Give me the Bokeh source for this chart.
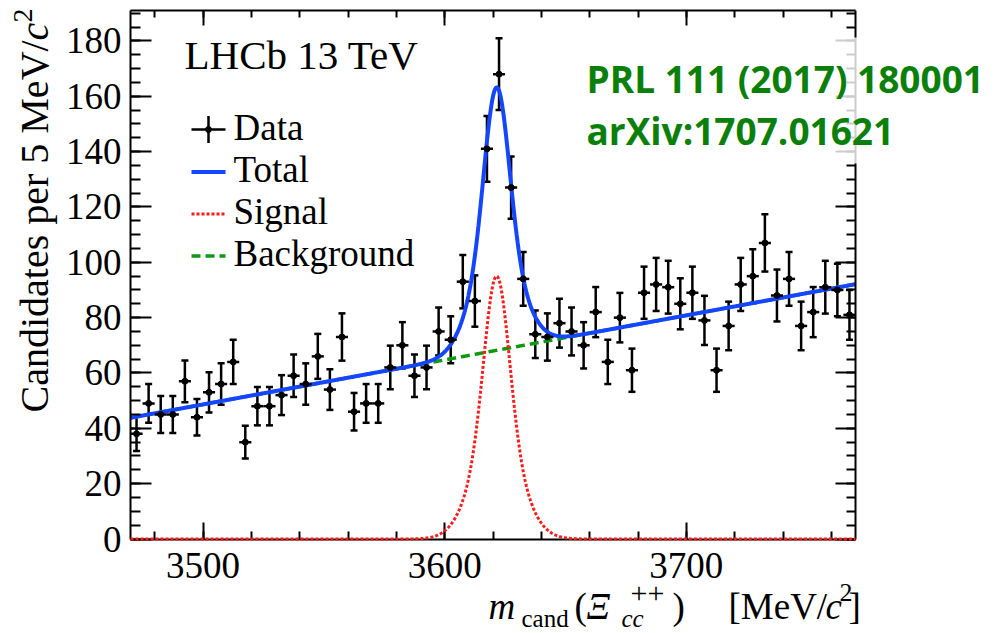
import numpy as np
from bokeh.plotting import figure
from bokeh.models import (Range1d, LinearAxis, SingleIntervalTicker, Label,
                          Whisker, ColumnDataSource, TeeHead, BoxAnnotation)
from bokeh.embed import file_html
from bokeh.resources import INLINE

# ---------------- data ----------------
bin_width = 5.0
bin_centers = np.arange(3472.5, 3770.0, bin_width)
counts = [38, 49, 45, 45, 57, 44, 53, 56, 64, 35,
          48, 48, 52, 59, 56, 66, 54, 73, 46, 49,
          49, 62, 70, 59, 62, 75, 72, 93, 86, 141,
          168, 127, 94, 74, 73, 78, 75, 70, 82, 64,
          80, 61, 89, 92, 91, 85, 89, 79, 61, 77,
          92, 95, 107, 88, 94, 77, 82, 91, 90, 81]
x_major_ticks = [3500, 3600, 3700]
y_major_ticks = [0, 20, 40, 60, 80, 100, 120, 140, 160, 180]
legend_labels = ["Data", "Total", "Signal", "Background"]

# fit-model parameters
sig_mean = 3621.5
sig_core_amp, sig_core_sigma = 57.0, 5.0
sig_wide_amp, sig_wide_sigma = 38.0, 9.5
bkg_at_low, bkg_slope = 43.8, 0.161

x_lo, x_hi = 3470.0, 3770.0
y_lo, y_hi = 0.0, 191.0

# ---------------- derived quantities ----------------
cnt = np.array(counts, dtype=float)
err = np.sqrt(cnt)
src = ColumnDataSource(dict(x=bin_centers, y=cnt, lo=cnt - err, hi=cnt + err,
                            xl=bin_centers - bin_width / 2, xr=bin_centers + bin_width / 2))

m = np.linspace(x_lo, x_hi, 1501)
bkg = bkg_at_low + bkg_slope * (m - x_lo)
sig = (sig_core_amp * np.exp(-0.5 * ((m - sig_mean) / sig_core_sigma) ** 2)
       + sig_wide_amp * np.exp(-0.5 * ((m - sig_mean) / sig_wide_sigma) ** 2))
tot = bkg + sig

# ---------------- geometry: the inner (ROOT) frame in canvas pixels ----------------
W, H = 1004, 633
FX0, FX1, FY0, FY1 = 130.0, 855.0, 10.0, 538.5   # left, right, top, bottom
kx = (FX1 - FX0) / (x_hi - x_lo)
ky = (FY1 - FY0) / (y_hi - y_lo)
def px2x(px):
    return x_lo + (px - FX0) / kx
def py2y(py):
    return y_lo + (FY1 - py) / ky

p = figure(width=W, height=H, output_backend="svg", toolbar_location=None,
           x_range=Range1d(px2x(0), px2x(W)), y_range=Range1d(py2y(H), py2y(0)),
           min_border_left=0, min_border_right=0, min_border_top=0, min_border_bottom=0,
           x_axis_location=None, y_axis_location=None)
p.grid.visible = False
p.outline_line_color = None
p.background_fill_color = "white"
p.border_fill_color = "white"

SERIF = "Liberation Serif"

def style_axis(ax, maj, mnr, labels):
    ax.axis_line_width = 2
    ax.axis_line_color = "black"
    ax.major_tick_in = maj
    ax.major_tick_out = 0
    ax.minor_tick_in = mnr
    ax.minor_tick_out = 0
    ax.major_tick_line_width = 2
    ax.minor_tick_line_width = 2
    ax.major_tick_line_color = "black"
    ax.minor_tick_line_color = "black"
    if labels:
        ax.major_label_text_font = SERIF
        ax.major_label_text_font_size = "37px"
        ax.major_label_text_color = "black"
    else:
        ax.major_label_text_font_size = "0px"
        ax.major_label_standoff = 0
        ax.major_label_text_alpha = 0

bottom = LinearAxis(ticker=SingleIntervalTicker(interval=100, num_minor_ticks=5),
                    fixed_location=y_lo, bounds=(x_lo, x_hi))
style_axis(bottom, 17, 8, True)
bottom.major_label_standoff = 14
p.add_layout(bottom, "below")
top = LinearAxis(ticker=SingleIntervalTicker(interval=100, num_minor_ticks=5),
                 fixed_location=y_hi, bounds=(x_lo, x_hi))
style_axis(top, 15, 7, False)
p.add_layout(top, "above")
left = LinearAxis(ticker=SingleIntervalTicker(interval=20, num_minor_ticks=4),
                  fixed_location=x_lo, bounds=(y_lo, y_hi))
style_axis(left, 21, 10, True)
left.major_label_standoff = 9
p.add_layout(left, "left")
right = LinearAxis(ticker=SingleIntervalTicker(interval=20, num_minor_ticks=4),
                   fixed_location=x_hi, bounds=(y_lo, y_hi))
style_axis(right, 20, 9, False)
p.add_layout(right, "right")

# ---------------- curves ----------------
BLUE, RED, GREEN_L = "#1446ff", "#ff1a1a", "#0e9a0e"
BKG_STYLE = dict(line_color=GREEN_L, line_width=3.5, line_dash="9 5")
SIG_STYLE = dict(line_color=RED, line_width=3, line_dash="3 2")
TOT_STYLE = dict(line_color=BLUE, line_width=4)
p.line(m, bkg, **BKG_STYLE)
p.line(m, sig, level="annotation", **SIG_STYLE)   # drawn over the x axis line, as in ROOT
p.line(m, tot, **TOT_STYLE)

# ---------------- data ----------------
p.segment(x0="xl", y0="y", x1="xr", y1="y", source=src, line_color="black", line_width=2.5)
wh = Whisker(base="x", lower="lo", upper="hi", source=src, dimension="height",
             line_color="black", line_width=2.5,
             upper_head=TeeHead(size=7, line_width=2.5, line_color="black"),
             lower_head=TeeHead(size=7, line_width=2.5, line_color="black"))
p.add_layout(wh)
p.scatter("x", "y", source=src, size=6, color="black")

# ---------------- text helpers ----------------
# Bokeh draws an "alphabetic" label about a third of an em below the anchor;
# compensate so that the given pixel value is the real baseline.
BASE_SHIFT = 0.33

def hlabel(px, base, text, size, font=SERIF, style="normal", color="black"):
    p.add_layout(Label(x=px2x(px), y=py2y(base - BASE_SHIFT * size), text=text,
                       text_font=font, text_font_size=f"{size}px", text_font_style=style,
                       text_color=color, text_baseline="alphabetic", text_align="left"))

def vlabel(base_px, py, text, size, style="normal"):
    p.add_layout(Label(x=px2x(base_px - BASE_SHIFT * size), y=py2y(py), text=text,
                       angle=np.pi / 2, text_font=SERIF, text_font_size=f"{size}px",
                       text_font_style=style, text_color="black",
                       text_baseline="alphabetic", text_align="left"))

# ---------------- legend (drawn by hand, ROOT style) ----------------
LG_X0, LG_X1, LG_TX = 191, 225, 233
LG_ROWS = [129, 171.5, 213.5, 255.5]          # symbol centre lines (px)
LG_BASE = [139, 181.5, 223.5, 265.5]          # text baselines (px)
cx = (LG_X0 + LG_X1) / 2
p.segment(x0=[px2x(LG_X0)], y0=[py2y(LG_ROWS[0])], x1=[px2x(LG_X1)], y1=[py2y(LG_ROWS[0])],
          line_color="black", line_width=2.5)
p.segment(x0=[px2x(cx)], y0=[py2y(LG_ROWS[0] - 13.5)], x1=[px2x(cx)], y1=[py2y(LG_ROWS[0] + 13.5)],
          line_color="black", line_width=2.5)
p.scatter(x=[px2x(cx)], y=[py2y(LG_ROWS[0])], size=6, color="black")
for row, style in zip(LG_ROWS[1:], [TOT_STYLE, SIG_STYLE, BKG_STYLE]):
    p.line(x=[px2x(LG_X0), px2x(LG_X1)], y=[py2y(row), py2y(row)], **style)
for txt, base in zip(legend_labels, LG_BASE):
    hlabel(LG_TX, base, txt, 37)

# ---------------- texts ----------------
hlabel(184, 68.5, "LHCb 13 TeV", 41)

# semi-transparent white panel behind the reference text (fades the right axis there)
p.add_layout(BoxAnnotation(left=px2x(575), right=px2x(1004), top=py2y(37), bottom=py2y(163),
                           fill_color="white", fill_alpha=0.8, line_color=None))
GREEN = "#0a800a"
hlabel(586, 90, "PRL 111 (2017) 180001", 37, font="Open Sans", style="bold", color=GREEN)
hlabel(586, 142, "arXiv:1707.01621", 37, font="Open Sans", style="bold", color=GREEN)

# y title (rotated, ROOT puts it at the top end of the axis)
vlabel(47, 412, "Candidates per 5 MeV/", 40)
vlabel(47, 40, "c", 40, "italic")
vlabel(32, 22, "2", 28)

# x title (right-aligned with the frame)
hlabel(488, 618, "m", 37, style="italic")
hlabel(521, 626, "cand", 25)
hlabel(574, 618, "(", 37)
hlabel(586, 618, "Ξ", 37, style="italic")
hlabel(621, 626, "cc", 25, style="italic")
hlabel(630, 603, "++", 30)
hlabel(672, 618, ")", 37)
hlabel(728, 618, "[MeV/", 37)
hlabel(825, 618, "c", 37, style="italic")
hlabel(839, 601, "2", 26)
hlabel(848, 618, "]", 37)

open("out.html", "w").write(file_html(p, INLINE))
